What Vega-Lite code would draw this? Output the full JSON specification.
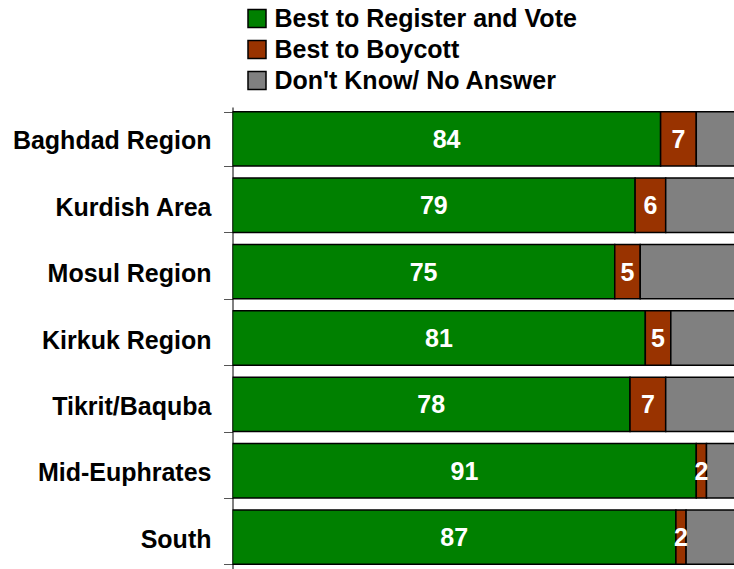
{
  "$schema": "https://vega.github.io/schema/vega-lite/v6.json",
  "width": 501.5,
  "height": 462,
  "autosize": {"type": "none"},
  "padding": {"left": 232.5, "top": 107, "right": 0, "bottom": 0},
  "config": {
    "view": {"stroke": null},
    "font": "Liberation Sans"
  },
  "data": {
    "values": [
      {"region": "Baghdad Region", "answer": "Best to Register and Vote", "value": 84, "ord": 1},
      {"region": "Baghdad Region", "answer": "Best to Boycott", "value": 7, "ord": 2},
      {"region": "Baghdad Region", "answer": "Don't Know/ No Answer", "value": 9, "ord": 3},
      {"region": "Kurdish Area", "answer": "Best to Register and Vote", "value": 79, "ord": 1},
      {"region": "Kurdish Area", "answer": "Best to Boycott", "value": 6, "ord": 2},
      {"region": "Kurdish Area", "answer": "Don't Know/ No Answer", "value": 15, "ord": 3},
      {"region": "Mosul Region", "answer": "Best to Register and Vote", "value": 75, "ord": 1},
      {"region": "Mosul Region", "answer": "Best to Boycott", "value": 5, "ord": 2},
      {"region": "Mosul Region", "answer": "Don't Know/ No Answer", "value": 20, "ord": 3},
      {"region": "Kirkuk Region", "answer": "Best to Register and Vote", "value": 81, "ord": 1},
      {"region": "Kirkuk Region", "answer": "Best to Boycott", "value": 5, "ord": 2},
      {"region": "Kirkuk Region", "answer": "Don't Know/ No Answer", "value": 14, "ord": 3},
      {"region": "Tikrit/Baquba", "answer": "Best to Register and Vote", "value": 78, "ord": 1},
      {"region": "Tikrit/Baquba", "answer": "Best to Boycott", "value": 7, "ord": 2},
      {"region": "Tikrit/Baquba", "answer": "Don't Know/ No Answer", "value": 15, "ord": 3},
      {"region": "Mid-Euphrates", "answer": "Best to Register and Vote", "value": 91, "ord": 1},
      {"region": "Mid-Euphrates", "answer": "Best to Boycott", "value": 2, "ord": 2},
      {"region": "Mid-Euphrates", "answer": "Don't Know/ No Answer", "value": 7, "ord": 3},
      {"region": "South", "answer": "Best to Register and Vote", "value": 87, "ord": 1},
      {"region": "South", "answer": "Best to Boycott", "value": 2, "ord": 2},
      {"region": "South", "answer": "Don't Know/ No Answer", "value": 11, "ord": 3}
    ]
  },
  "transform": [
    {"stack": "value", "groupby": ["region"], "sort": [{"field": "ord", "order": "ascending"}], "as": ["v0", "v1"]},
    {"calculate": "(datum.v0 + datum.v1) / 2", "as": "mid"}
  ],
  "encoding": {
    "y": {
      "field": "region",
      "type": "nominal",
      "sort": ["Baghdad Region", "Kurdish Area", "Mosul Region", "Kirkuk Region", "Tikrit/Baquba", "Mid-Euphrates", "South"],
      "scale": {"paddingInner": 0.18, "paddingOuter": 0.07},
      "axis": {
        "title": null,
        "labelFont": "Liberation Sans",
        "labelFontWeight": "bold",
        "labelFontSize": 25,
        "labelColor": "black",
        "labelPadding": 12.5,
        "labelLimit": 400,
        "labelOffset": 2,
        "tickBand": "extent",
        "tickSize": 9,
        "tickColor": "#555555",
        "tickWidth": 1,
        "domainColor": "black",
        "domainWidth": 1,
        "grid": false
      }
    }
  },
  "layer": [
    {
      "mark": {"type": "bar", "clip": true, "stroke": "black", "strokeWidth": 1.5},
      "encoding": {
        "x": {"field": "v0", "type": "quantitative", "scale": {"domain": [0, 98.4], "nice": false, "zero": true}, "axis": null},
        "x2": {"field": "v1"},
        "color": {
          "field": "answer",
          "type": "nominal",
          "scale": {
            "domain": ["Best to Register and Vote", "Best to Boycott", "Don't Know/ No Answer"],
            "range": ["#008000", "#993300", "#808080"]
          },
          "legend": {
            "title": null,
            "orient": "none",
            "legendX": 12,
            "legendY": -101,
            "symbolType": "square",
            "symbolSize": 324,
            "symbolStrokeColor": "black",
            "symbolStrokeWidth": 1.5,
            "labelFont": "Liberation Sans",
            "labelFontWeight": "bold",
            "labelFontSize": 25,
            "labelColor": "black",
            "labelOffset": 5,
            "rowPadding": 5,
            "labelLimit": 500
          }
        }
      }
    },
    {
      "transform": [{"filter": "datum.ord < 3"}],
      "mark": {"type": "text", "color": "white", "fontWeight": "bold", "fontSize": 25, "font": "Liberation Sans", "baseline": "middle", "align": "center", "dy": 1},
      "encoding": {
        "x": {"field": "mid", "type": "quantitative"},
        "text": {"field": "value", "type": "quantitative"}
      }
    }
  ]
}
